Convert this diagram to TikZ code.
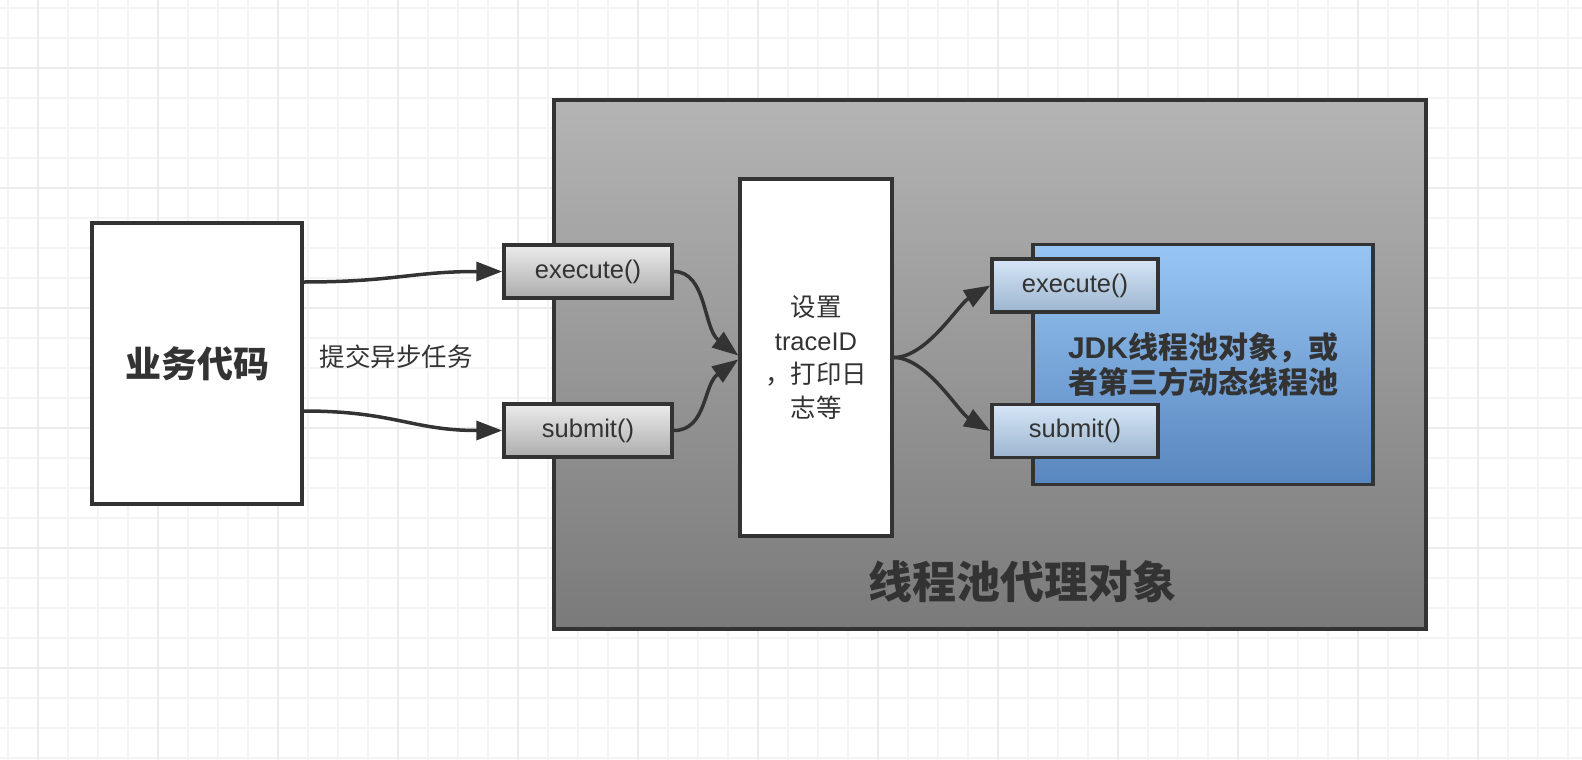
\documentclass[tikz,border=0pt]{standalone}
\usepackage{fontspec}
\setmainfont{Liberation Sans}
\newfontfamily\cjk{Noto Sans CJK SC}
\usetikzlibrary{arrows.meta}
\definecolor{ink}{HTML}{333333}
\definecolor{gridminor}{HTML}{F4F4F4}
\definecolor{gridmajor}{HTML}{ECECEC}
\tikzset{
  box/.style={draw=ink, line width=3.5pt, inner sep=0pt, text=ink},
  methodgray/.style={box, minimum width=168pt, minimum height=53pt, top color=gray!15!white, bottom color=gray!65!white, font=\fontsize{25.5}{30}\selectfont},
  methodblue/.style={box, minimum width=166pt, minimum height=53pt, top color={rgb,255:red,214;green,230;blue,247}, bottom color={rgb,255:red,156;green,181;blue,207}, font=\fontsize{25.5}{30}\selectfont},
  conn/.style={draw=ink, line width=3.5pt, -{Triangle[length=26pt,width=19pt]}},
  lbl/.style={text=ink, inner sep=0pt},
}
\begin{document}
\begin{tikzpicture}[x=1pt,y=-1pt]
\useasboundingbox (0,0) rectangle (1582,760);
\fill[white] (0,0) rectangle (1582,760);
% grid
\foreach \i in {0,...,52} \draw[gridminor, line width=2pt] ({8.3+30*\i},0) -- ({8.3+30*\i},760);
\foreach \j in {0,...,25} \draw[gridminor, line width=2pt] (0,{8.3+30*\j}) -- (1582,{8.3+30*\j});
\foreach \i in {0,...,13} \draw[gridmajor, line width=2.3pt] ({38.3+120*\i},0) -- ({38.3+120*\i},760);
\foreach \j in {0,...,5} \draw[gridmajor, line width=2.3pt] (0,{68.3+120*\j}) -- (1582,{68.3+120*\j});

% business code box
\node[box, fill=white, minimum width=210pt, minimum height=281pt,
      font=\cjk\bfseries\fontsize{36}{40}\selectfont] (biz) at (197,363.5) {业务代码};

% proxy box
\node[box, minimum width=872pt, minimum height=529pt,
      top color={rgb,255:red,180;green,180;blue,180}, bottom color={rgb,255:red,122;green,122;blue,122}] (proxy) at (990,364.5) {};
\node[lbl, font=\cjk\bfseries\fontsize{44}{48}\selectfont] (proxylbl) at (1022,582) {线程池代理对象};

% trace box
\node[box, fill=white, minimum width=152pt, minimum height=357pt, align=center,
      font=\fontsize{25.5}{33.8}\selectfont] (trace) at (816,357.5)
      {{\cjk 设置}\\traceID\\{\cjk ，打印日}\\{\cjk 志等}};

% left method boxes
\node[methodgray] (exe1) at (588,271.5) {execute()};
\node[methodgray] (sub1) at (588,430.5) {submit()};

% blue JDK pool box
\node[box, minimum width=340pt, minimum height=240pt,
      top color={rgb,255:red,152;green,198;blue,244}, bottom color={rgb,255:red,88;green,134;blue,190},
      align=center, font=\bfseries\fontsize{30}{35.5}\selectfont] (jdk) at (1203,364.5)
      {JDK{\cjk 线程池对象，或}\\{\cjk 者第三方动态线程池}};

% right method boxes
\node[methodblue] (exe2) at (1075,285.5) {execute()};
\node[methodblue] (sub2) at (1075,431) {submit()};

% label
\node[lbl, font=\cjk\fontsize{25.5}{30}\selectfont] (submitlbl) at (396,357) {提交异步任务};

% connectors
\draw[conn] ([yshift=81.5pt]biz.east) .. controls +(90,0) and +(-90,0) .. (exe1.west);
\draw[conn] ([yshift=-47.5pt]biz.east) .. controls +(90,0) and +(-90,0) .. (sub1.west);
\draw[conn] (exe1.east) .. controls +(33,0) and +(-35,-27) .. ([yshift=2pt]trace.west);
\draw[conn] (sub1.east) .. controls +(33,0) and +(-35,25) .. ([yshift=-2pt]trace.west);
\draw[conn] (trace.east) .. controls +(33,0) and +(-32,19) .. (exe2.west);
\draw[conn] (trace.east) .. controls +(33,0) and +(-32,-19) .. (sub2.west);
\end{tikzpicture}
\end{document}
